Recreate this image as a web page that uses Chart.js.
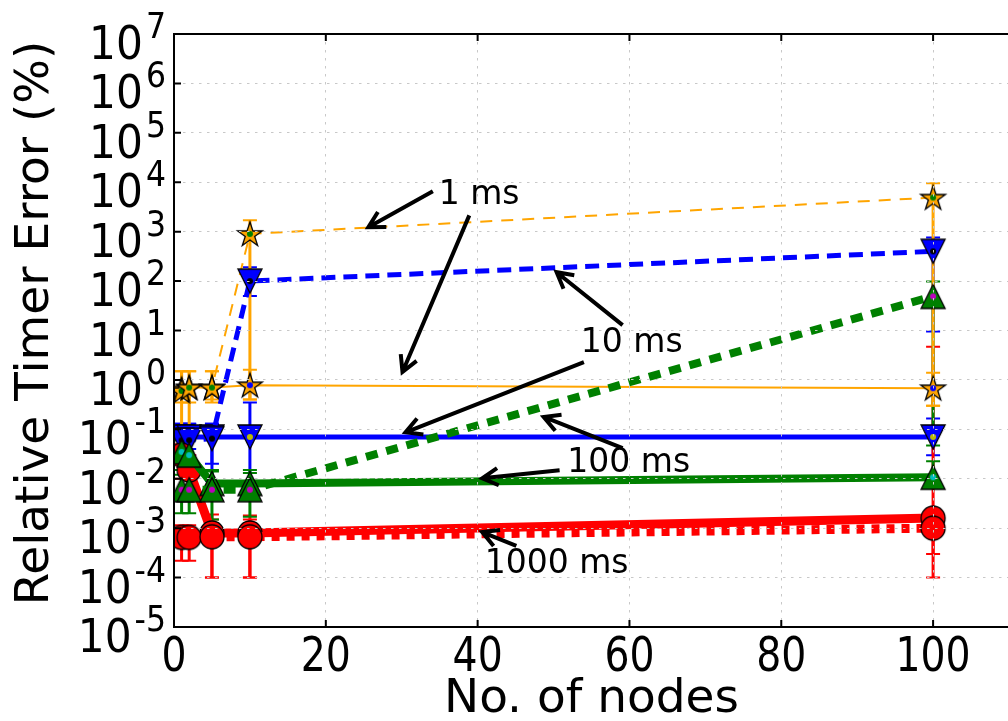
<!DOCTYPE html>
<html>
<head>
<meta charset="utf-8">
<script src="https://cdn.jsdelivr.net/npm/chart.js@4.4.0/dist/chart.umd.min.js"></script>
<style>
  html, body { margin: 0; padding: 0; overflow: hidden; background: #fff; }
  #wrap { position: absolute; left: 0; top: 0; width: 1030px; height: 721px; }
</style>
</head>
<body>
<div id="wrap"><canvas id="timerChart" width="1030" height="721"></canvas></div>
<script>
const nodes = [1, 2, 5, 10, 100];
const xTicks = [0, 20, 40, 60, 80, 100];
const yExponents = [-5, -4, -3, -2, -1, 0, 1, 2, 3, 4, 5, 6, 7];

// 1 ms timer
const ms1Dashed = [0.6, 0.7, 0.7, 900, 4900];
const ms1DashedLow = [0.35, 0.35, 0.35, 0.4, 0.3];
const ms1DashedHigh = [1.5, 1.5, 1.5, 1700, 9500];
const ms1Solid = [0.65, 0.7, 0.7, 0.78, 0.68];
const ms1SolidLow = [0.1, 0.1, 0.4, 0.4, 0.3];
const ms1SolidHigh = [1.5, 1.5, 1.5, 1.6, 1.4];

// 10 ms timer
const ms10Dashed = [0.06, 0.06, 0.065, 100, 400];
const ms10DashedLow = [0.03, 0.03, 0.02, 50, 9.5];
const ms10DashedHigh = [0.13, 0.13, 0.13, 190, 760];
const ms10Solid = [0.07, 0.07, 0.07, 0.07, 0.07];
const ms10SolidLow = [0.04, 0.04, 0.009, 0.009, 0.03];
const ms10SolidHigh = [0.13, 0.13, 0.13, 0.35, 0.166];

// 100 ms timer
const ms100Dashed = [0.006, 0.006, 0.006, 0.006, 49];
const ms100DashedLow = [0.002, 0.002, 0.0015, 0.0017, 0.047];
const ms100DashedHigh = [0.012, 0.012, 0.014, 0.013, 98];
const ms100Solid = [0.035, 0.03, 0.008, 0.008, 0.0107];
const ms100SolidLow = [0.015, 0.015, 0.004, 0.004, 0.0076];
const ms100SolidHigh = [0.06, 0.06, 0.015, 0.015, 0.0227];

// 1000 ms timer
const ms1000Solid = [0.03, 0.015, 0.0008, 0.0008, 0.0016];
const ms1000SolidLow = [0.01, 0.005, 0.0001, 0.0001, 0.0003];
const ms1000SolidHigh = [0.05, 0.03, 0.0019, 0.0018, 4.7];
const ms1000Dashed = [0.00065, 0.00065, 0.00067, 0.00067, 0.001];
const ms1000DashedLow = [0.00022, 0.00022, 0.0001, 0.0001, 0.0001];
const ms1000DashedHigh = [0.00115, 0.00115, 0.0015, 0.0015, 0.002];

// annotations: label, text position [nodes, log10 value], arrows [from x, from log, to x, to log]
const noteLabels = ['1 ms', '10 ms', '100 ms', '1000 ms'];
const noteAt = [[40.2, 3.74], [60.3, 0.73], [59.9, -1.68], [50.4, -3.74]];
const noteArrows = [
  [[34.1, 3.82, 25.6, 3.09], [38.9, 3.33, 30.1, 0.16]],
  [[59.1, 1.11, 50.4, 2.18], [54.0, 0.36, 30.5, -1.06]],
  [[59.1, -1.38, 48.7, -0.75], [50.8, -1.83, 40.6, -1.99]],
  [[45.1, -3.36, 40.6, -3.08]]
];

Chart.defaults.font.family = 'DejaVu Sans';
Chart.defaults.color = '#000';

function makeMarker(shape, fill, dot) {
  const r = shape === 'star' ? 13 : 12;
  const c = document.createElement('canvas');
  const s = 30;
  c.width = s; c.height = s;
  const g = c.getContext('2d');
  g.translate(s / 2, s / 2);
  g.beginPath();
  if (shape === 'star') {
    for (let k = 0; k < 10; k++) {
      const rad = k % 2 ? r * 0.382 : r;
      const ang = -Math.PI / 2 + k * Math.PI / 5;
      g.lineTo(rad * Math.cos(ang), rad * Math.sin(ang) + 1);
    }
  } else if (shape === 'down') {
    g.moveTo(0, r); g.lineTo(-r, -r); g.lineTo(r, -r);
  } else if (shape === 'up') {
    g.moveTo(0, -r); g.lineTo(-r, r); g.lineTo(r, r);
  } else {
    g.arc(0, 0, r, 0, Math.PI * 2);
  }
  g.closePath();
  g.fillStyle = fill;
  g.fill();
  g.lineWidth = 1.3;
  g.strokeStyle = '#000';
  g.stroke();
  if (dot) {
    g.beginPath();
    g.arc(0, 0, 3, 0, Math.PI * 2);
    g.fillStyle = dot;
    g.fill();
  }
  return c;
}

function series(values, low, high, color, width, dash, marker, order, barLayer) {
  return {
    data: nodes.map((n, i) => ({ x: n, y: values[i] })),
    errLow: low,
    errHigh: high,
    barLayer: barLayer,
    borderColor: color,
    backgroundColor: color,
    borderWidth: width,
    borderDash: dash,
    pointStyle: marker,
    pointRadius: 12,
    tension: 0,
    fill: false,
    clip: 0,
    order: order
  };
}

const orange = '#ffa500', blue = '#0000ff', green = '#008000', red = '#ff0000';

const datasets = [
  series(ms1Solid, ms1SolidLow, ms1SolidHigh, orange, 2, [], makeMarker('star', orange, '#0000ff'), 80, 7),
  series(ms1Dashed, ms1DashedLow, ms1DashedHigh, orange, 2, [12, 9], makeMarker('star', orange, '#008000'), 70, 8),
  series(ms10Solid, ms10SolidLow, ms10SolidHigh, blue, 5, [], makeMarker('down', blue, '#bfbf00'), 60, 1),
  series(ms10Dashed, ms10DashedLow, ms10DashedHigh, blue, 5, [14, 8], makeMarker('down', blue, '#000'), 50, 2),
  series(ms1000Solid, ms1000SolidLow, ms1000SolidHigh, red, 9, [], makeMarker('circle', red, null), 40, 3),
  series(ms1000Dashed, ms1000DashedLow, ms1000DashedHigh, red, 9, [8, 7], makeMarker('circle', red, null), 30, 4),
  series(ms100Solid, ms100SolidLow, ms100SolidHigh, green, 8, [], makeMarker('up', green, '#00bfbf'), 20, 5),
  series(ms100Dashed, ms100DashedLow, ms100DashedHigh, green, 8, [12, 9], makeMarker('up', green, '#bf00bf'), 10, 6)
];

// all error bars go down first, lines and markers sit on top of them
const errorBars = {
  id: 'errorBars',
  beforeDatasetsDraw(chart) {
    const { ctx, chartArea: a, scales: { x, y } } = chart;
    const list = chart.data.datasets.slice().sort((p, q) => p.barLayer - q.barLayer);
    ctx.save();
    ctx.beginPath();
    ctx.rect(a.left, a.top, a.right - a.left, a.bottom - a.top);
    ctx.clip();
    list.forEach(ds => {
      ctx.strokeStyle = ds.borderColor;
      nodes.forEach((n, i) => {
        const px = x.getPixelForValue(n);
        const y1 = y.getPixelForValue(ds.errLow[i]);
        const y2 = y.getPixelForValue(ds.errHigh[i]);
        ctx.lineWidth = 3;
        ctx.beginPath();
        ctx.moveTo(px, y1);
        ctx.lineTo(px, y2);
        ctx.stroke();
        ctx.lineWidth = 2;
        ctx.beginPath();
        ctx.moveTo(px - 7, y1); ctx.lineTo(px + 7, y1);
        ctx.moveTo(px - 7, y2); ctx.lineTo(px + 7, y2);
        ctx.stroke();
      });
    });
    ctx.restore();
  }
};

function squeezed(ctx, str, px, py, size, sx, align) {
  ctx.save();
  ctx.font = size + 'px "DejaVu Sans"';
  ctx.translate(px, py);
  ctx.scale(sx, 1);
  ctx.textAlign = align;
  ctx.textBaseline = 'alphabetic';
  ctx.fillText(str, 0, 0);
  ctx.restore();
}

function arrow(ctx, x1, y1, x2, y2) {
  const ang = Math.atan2(y2 - y1, x2 - x1);
  const len = 18, spread = 0.5;
  ctx.beginPath();
  ctx.moveTo(x1, y1);
  ctx.lineTo(x2, y2);
  ctx.moveTo(x2 - len * Math.cos(ang - spread), y2 - len * Math.sin(ang - spread));
  ctx.lineTo(x2, y2);
  ctx.lineTo(x2 - len * Math.cos(ang + spread), y2 - len * Math.sin(ang + spread));
  ctx.stroke();
}

const decor = {
  id: 'decor',
  afterDraw(chart) {
    const { ctx, chartArea: a, scales: { x, y } } = chart;
    ctx.save();
    ctx.strokeStyle = '#000';
    ctx.fillStyle = '#000';
    ctx.lineWidth = 2;
    // top spine
    ctx.beginPath();
    ctx.moveTo(a.left, a.top);
    ctx.lineTo(a.right, a.top);
    ctx.stroke();
    // inward ticks
    ctx.beginPath();
    xTicks.forEach(v => {
      const px = x.getPixelForValue(v);
      ctx.moveTo(px, a.bottom); ctx.lineTo(px, a.bottom - 7);
      ctx.moveTo(px, a.top); ctx.lineTo(px, a.top + 7);
    });
    yExponents.forEach(e => {
      const py = y.getPixelForValue(Math.pow(10, e));
      ctx.moveTo(a.left, py); ctx.lineTo(a.left + 7, py);
    });
    ctx.stroke();

    // x tick labels
    xTicks.forEach(v => {
      squeezed(ctx, String(v), x.getPixelForValue(v), a.bottom + 44, 48, 0.82, 'center');
    });

    // y tick labels 10^n
    yExponents.forEach(e => {
      const py = y.getPixelForValue(Math.pow(10, e));
      const exp = String(e);
      ctx.font = '35px "DejaVu Sans"';
      const ew = ctx.measureText(exp).width * 0.9;
      const right = 166;
      squeezed(ctx, exp, right, py + 4, 35, 0.9, 'right');
      squeezed(ctx, '10', right - ew - 3, py + 25, 46, 0.92, 'right');
    });

    // annotations
    ctx.lineWidth = 4;
    ctx.lineJoin = 'miter';
    ctx.font = '33px "DejaVu Sans"';
    ctx.textAlign = 'center';
    ctx.textBaseline = 'middle';
    noteLabels.forEach((label, i) => {
      const tx = x.getPixelForValue(noteAt[i][0]);
      const ty = y.getPixelForValue(Math.pow(10, noteAt[i][1]));
      ctx.fillText(label, tx, ty);
      noteArrows[i].forEach(ar => {
        arrow(ctx,
          x.getPixelForValue(ar[0]), y.getPixelForValue(Math.pow(10, ar[1])),
          x.getPixelForValue(ar[2]), y.getPixelForValue(Math.pow(10, ar[3])));
      });
    });
    ctx.restore();
  }
};

const ctx = document.getElementById('timerChart').getContext('2d');
new Chart(ctx, {
  type: 'line',
  data: { datasets: datasets },
  options: {
    responsive: false,
    animation: false,
    events: [],
    layout: { padding: { left: 0, top: 34, right: 13, bottom: 0 } },
    plugins: { legend: { display: false }, tooltip: { enabled: false } },
    scales: {
      x: {
        type: 'linear',
        min: 0,
        max: 110,
        afterBuildTicks: (s) => { s.ticks = xTicks.map(v => ({ value: v })); },
        afterFit: (s) => { s.height = 94; },
        ticks: { display: false },
        grid: { color: '#c8c8c8', lineWidth: 1, drawTicks: false, z: 1 },
        border: { color: '#000', width: 2, dash: [2.5, 5.5], z: 2 },
        title: {
          display: true,
          text: 'No. of nodes',
          font: { size: 47, lineHeight: 0.85 },
          padding: { top: 0, bottom: 1 }
        }
      },
      y: {
        type: 'logarithmic',
        min: 1e-5,
        max: 1e7,
        afterBuildTicks: (s) => { s.ticks = yExponents.map(e => ({ value: Math.pow(10, e) })); },
        afterFit: (s) => { s.width = 174; },
        ticks: { display: false },
        grid: { color: '#c8c8c8', lineWidth: 1, drawTicks: false, z: 1 },
        border: { color: '#000', width: 2, dash: [2.5, 5.5], z: 2 },
        title: {
          display: true,
          text: '\u00a0Relative Timer Error (%)',
          font: { size: 47, lineHeight: 1 },
          padding: { top: 12, bottom: 0 }
        }
      }
    }
  },
  plugins: [errorBars, decor]
});
</script>
</body>
</html>
